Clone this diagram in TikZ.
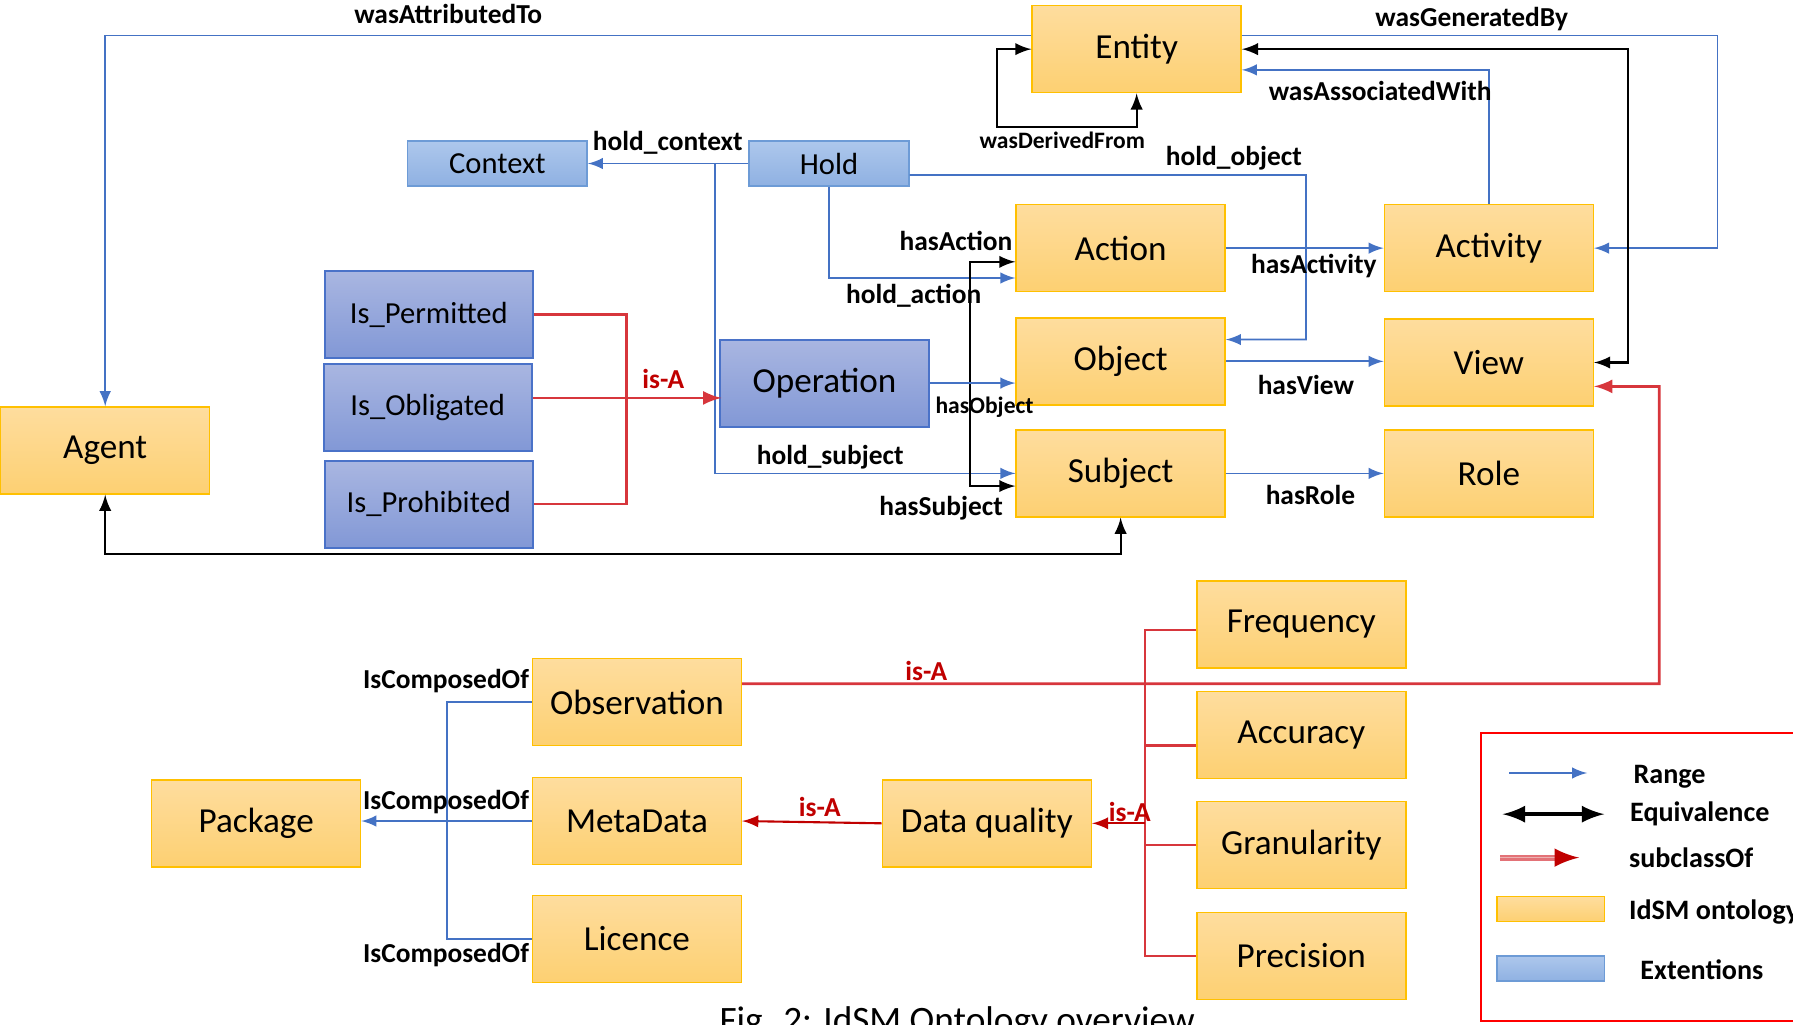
\documentclass[tikz,border=0pt]{standalone}
\usepackage{fontspec}
\setmainfont{Carlito}
\usepackage{tikz}
\usetikzlibrary{arrows, shapes, positioning}
\definecolor{rangeblue}{HTML}{4472C4}
\definecolor{isared}{HTML}{C00000}
\definecolor{branchred}{HTML}{D7363C}
\definecolor{ontotop}{HTML}{FEDD9E}
\definecolor{ontobot}{HTML}{FDD072}
\definecolor{ontoline}{HTML}{FFC000}
\definecolor{exttop}{HTML}{ADC7EC}
\definecolor{extbot}{HTML}{8FB1E2}
\definecolor{extline}{HTML}{6D9BD6}
\definecolor{permtop}{HTML}{A9B6E1}
\definecolor{permbot}{HTML}{8298D6}
\definecolor{permline}{HTML}{4A72C8}

\begin{document}
\begin{tikzpicture}[x=0.11435mm, y=-0.11435mm, >=latex,
	onto/.style={draw=ontoline, top color=ontotop, bottom color=ontobot, minimum width=20.9mm, minimum height=8.7mm, inner sep=0pt, font=\fontsize{10}{12}\selectfont},
	ext/.style={draw=extline, top color=exttop, bottom color=extbot, minimum height=4.5mm, inner sep=0pt, font=\fontsize{8.7}{10}\selectfont},
	perm/.style={draw=permline, line width=0.6pt, top color=permtop, bottom color=permbot, minimum width=20.8mm, minimum height=8.7mm, inner sep=0pt, font=\fontsize{8.7}{10}\selectfont},
	lbl/.style={inner sep=0pt, font=\bfseries\fontsize{7.8}{9}\selectfont},
	slbl/.style={inner sep=0pt, font=\bfseries\fontsize{6.7}{8}\selectfont},
	isalbl/.style={lbl, text=isared},
	keylbl/.style={lbl, anchor=west, font=\bfseries\fontsize{8}{9}\selectfont},
	rng/.style={->, rangeblue, line width=0.5pt},
	rngline/.style={rangeblue, line width=0.5pt},
	eqv/.style={<->, black, line width=0.6pt},
	isa/.style={->, isared, line width=0.6pt},
	subcl/.style={->, branchred, line width=0.8pt},
	branch/.style={branchred, line width=0.6pt}]
	% Seitenrahmen
	\useasboundingbox (0,0) rectangle (1568,896);
	% Klassen (IdSM)
	\node[onto] (Entity) at (994,43) {Entity};
	\node[onto] (Action) at (980,217) {Action};
	\node[onto] (Activity) at (1302,217) {Activity};
	\node[onto] (Object) at (980,316) {Object};
	\node[onto] (View) at (1302,317) {View};
	\node[onto] (Agent) at (92,394) {Agent};
	\node[onto] (Subject) at (980,414) {Subject};
	\node[onto] (Role) at (1302,414) {Role};
	\node[onto] (Frequency) at (1138,546) {Frequency};
	\node[onto] (Observation) at (557,614) {Observation};
	\node[onto] (Accuracy) at (1138,643) {Accuracy};
	\node[onto] (Package) at (224,720) {Package};
	\node[onto] (MetaData) at (557,718) {MetaData};
	\node[onto] (DataQuality) at (863,720) {Data quality};
	\node[onto] (Granularity) at (1138,739) {Granularity};
	\node[onto] (Licence) at (557,821) {Licence};
	\node[onto] (Precision) at (1138,836) {Precision};
	% Erweiterungen
	\node[ext, minimum width=17.95mm] (Context) at (435,143) {Context};
	\node[ext, minimum width=16mm] (Hold) at (725,143) {Hold};
	\node[perm] (IsPermitted) at (375,275) {Is\_Permitted};
	\node[perm] (IsObligated) at (374,356) {Is\_Obligated};
	\node[perm] (IsProhibited) at (375,441) {Is\_Prohibited};
	\node[perm, minimum width=20.9mm, font=\fontsize{10}{12}\selectfont] (Operation) at (721,335) {Operation};
	% Verbindungen oben
	\draw[rng] ([yshift=3.9pt]Entity.west) -| (Agent.north);
	\draw[rng] ([yshift=3.9pt]Entity.east) -| (1502,217) -- (Activity.east);
	\draw[eqv] (Entity.east) -| (1424,317) -- (View.east);
	\draw[rng] (Activity.north) |- ([yshift=-5.9pt]Entity.east);
	\draw[eqv] (Entity.west) -| (872,111) -| (Entity.south);
	% Hold
	\coordinate (holdjoint) at (625,143);
	\draw[rng] (Hold.west) -- (Context.east);
	\draw[rng] (holdjoint) |- (Subject.west);
	\draw[rng] (Hold.south) |- ([yshift=-8.5pt]Action.west);
	\draw[rng] ([yshift=-3.25pt]Hold.east) -| (1142,297) -- ([yshift=6.2pt]Object.east);
	% Operation
	\draw[eqv] ([yshift=-3.9pt]Action.west) -- ++(-40,0) |- ([yshift=-3.6pt]Subject.west);
	\draw[rng] (Operation.east) -- (Operation.east -| Object.west);
	\draw[rng] (Action.east) -- (Activity.west);
	\draw[rng] (Object.east) -- (Object.east -| View.west);
	\draw[rng] (Subject.east) -- (Subject.east -| Role.west);
	\draw[eqv] (Agent.south) -- ++(0,52) -| (Subject.south);
	% is-A
	\draw[branch] (IsPermitted.east) -- ++(81,0) |- (IsProhibited.east);
	\draw[subcl] ([yshift=2.6pt]IsObligated.east) -- ++(165,0);
	\draw[subcl] ([yshift=5.2pt]Observation.east) -| (1451,338) -- ([yshift=-6.8pt]View.east);
	\coordinate (dqjoint) at (1001,720);
	\draw[branch] ([yshift=-1.6pt]Frequency.west) -- ++(-45,0) |- (Precision.west);
	\foreach \n/\s in {Accuracy/-2.9pt, Granularity/0pt}
		\draw[branch] ([yshift=\s]\n.west) -- ++(-45,0);
	\draw[isa] (dqjoint) -- (DataQuality.east);
	\draw[isa] (DataQuality.west) -- (MetaData.east);
	% IsComposedOf
	\draw[rngline] (Observation.west) -| (391,821) -- (Licence.west);
	\draw[rng] (MetaData.west) -- (MetaData.west -| Package.east);
	% Beschriftung
	\node[lbl] (lAttr) at (392,12) {wasAttributedTo};
	\node[lbl] (lGen) at (1287,17) {wasGeneratedBy};
	\node[lbl] (lAssoc) at (1207,80) {wasAssociatedWith};
	\node[slbl] (lDeriv) at (929,123) {wasDerivedFrom};
	\node[lbl] (lContext) at (584,125) {hold\_context};
	\node[lbl] (lHObj) at (1079,138) {hold\_object};
	\node[lbl] (lHasAct) at (836,211) {hasAction};
	\node[lbl] (lHAct) at (799,259) {hold\_action};
	\node[lbl] (lActiv) at (1149,233) {hasActivity};
	\node[isalbl] (lIsa1) at (580,331) {is-A};
	\node[slbl] (lHasObj) at (861,356) {hasObject};
	\node[lbl] (lView) at (1142,337) {hasView};
	\node[lbl] (lHSubj) at (726,400) {hold\_subject};
	\node[lbl] (lHasSubj) at (823,444) {hasSubject};
	\node[lbl] (lRole) at (1146,433) {hasRole};
	\node[isalbl] (lIsa2) at (810,587) {is-A};
	\node[lbl] (lComp1) at (390,596) {IsComposedOf};
	\node[lbl] (lComp2) at (390,701) {IsComposedOf};
	\node[isalbl] (lIsa3) at (717,706) {is-A};
	\node[isalbl] (lIsa4) at (988,710) {is-A};
	\node[lbl] (lComp3) at (390,835) {IsComposedOf};
	% Legende
	\draw[red, line width=0.6pt] (1295,641) rectangle (1590,893);
	\draw[rng] (1320,676) -- (1388,676);
	\draw[<->, black, line width=1.2pt] (1314,712) -- (1403,712);
	\draw[branchred!70, double=isared!30, double distance=0.5pt, line width=0.6pt] (1312,750) -- (1368,750);
	\draw[->, isared, line width=1.4pt] (1366,750) -- (1381,750);
	\draw[ontoline, top color=ontotop, bottom color=ontobot] (1309,784) rectangle (1403,806);
	\draw[extline, top color=exttop, bottom color=extbot] (1309,836) rectangle (1403,858);
	\node[keylbl] (kRange) at (1428,679) {Range};
	\node[keylbl] (kEqv) at (1425,712) {Equivalence};
	\node[keylbl] (kSub) at (1424,750) {subclassOf};
	\node[keylbl] (kOnto) at (1424,798) {IdSM ontology};
	\node[keylbl] (kExt) at (1434,848) {Extentions};
	% Bildunterschrift
	\node[anchor=base, inner sep=0pt, font=\fontsize{10.6}{12}\selectfont] (caption) at (837,903) {Fig. 2: IdSM Ontology overview};
\end{tikzpicture}
\end{document}
